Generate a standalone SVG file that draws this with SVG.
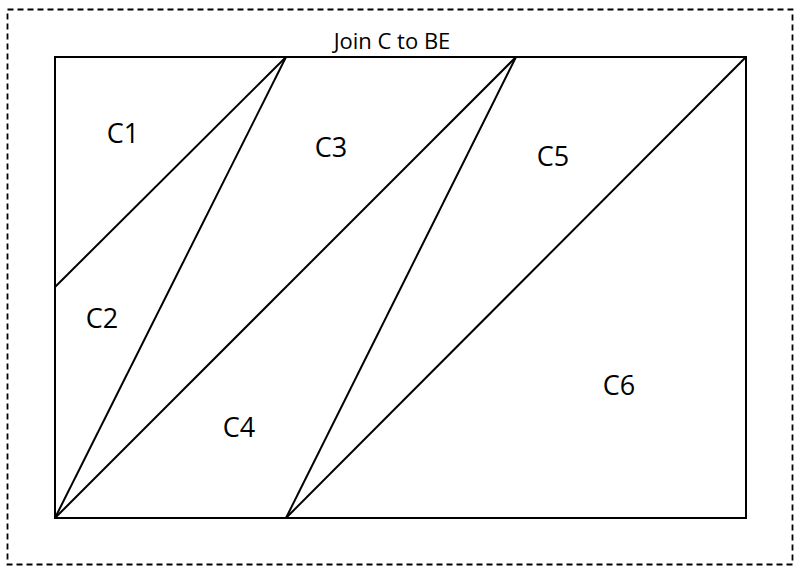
<svg xmlns="http://www.w3.org/2000/svg" width="796" height="568" viewBox="0 0 796 568">
<style>
.frame{fill:none;stroke:#000;stroke-width:1.8;stroke-dasharray:6,4}
.edge{fill:none;stroke:#000;stroke-width:2}
.lbl{font-family:"Open Sans","Noto Sans",sans-serif;font-size:27px;fill:#000;text-anchor:middle}
.title{font-family:"Open Sans","Noto Sans",sans-serif;font-size:22px;fill:#000;text-anchor:middle}
</style>
<rect x="0" y="0" width="796" height="568" fill="#fff"/>
<rect class="frame" x="7.5" y="9.5" width="785" height="555"/>
<text class="title" x="392" y="49">Join C to BE</text>
<g id="rect"><rect class="edge" x="55" y="57" width="691" height="461"/></g>
<g id="connectors">
<line class="edge" x1="55" y1="287" x2="286" y2="57"/>
<line class="edge" x1="55" y1="518" x2="286" y2="57"/>
<line class="edge" x1="55" y1="518" x2="516" y2="57"/>
<line class="edge" x1="286" y1="518" x2="516" y2="57"/>
<line class="edge" x1="286" y1="518" x2="746" y2="57"/>
</g>
<g id="C1"><text class="lbl" x="123" y="143">C1</text></g>
<g id="C2"><text class="lbl" x="102" y="328">C2</text></g>
<g id="C3"><text class="lbl" x="331" y="157">C3</text></g>
<g id="C4"><text class="lbl" x="239" y="437">C4</text></g>
<g id="C5"><text class="lbl" x="553" y="166">C5</text></g>
<g id="C6"><text class="lbl" x="619" y="395">C6</text></g>
</svg>
